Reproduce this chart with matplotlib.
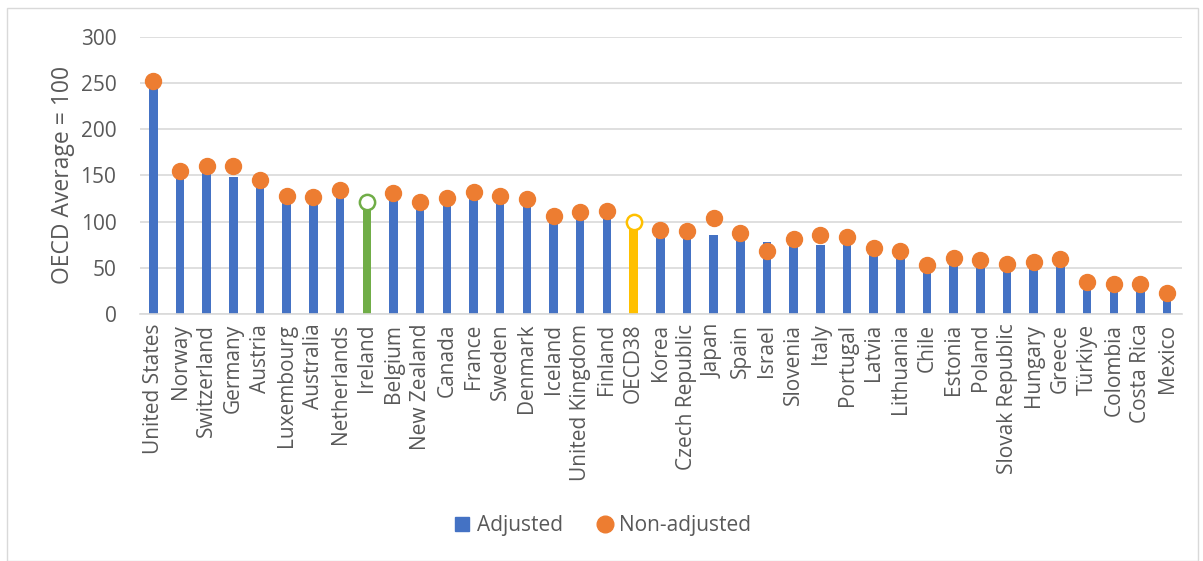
import numpy as np
import matplotlib.pyplot as plt
from matplotlib.patches import Rectangle
from matplotlib.lines import Line2D

plt.rcParams['font.family'] = ['Open Sans', 'DejaVu Sans']

countries = ['United States', 'Norway', 'Switzerland', 'Germany', 'Austria', 'Luxembourg',
             'Australia', 'Netherlands', 'Ireland', 'Belgium', 'New Zealand', 'Canada',
             'France', 'Sweden', 'Denmark', 'Iceland', 'United Kingdom', 'Finland', 'OECD38',
             'Korea', 'Czech Republic', 'Japan', 'Spain', 'Israel', 'Slovenia', 'Italy',
             'Portugal', 'Latvia', 'Lithuania', 'Chile', 'Estonia', 'Poland', 'Slovak Republic',
             'Hungary', 'Greece', 'Türkiye', 'Colombia', 'Costa Rica', 'Mexico']
adjusted = [247, 150, 155, 148, 140, 123, 121, 128, 121, 125, 115, 120,
            125, 122, 119, 100, 103, 105, 100, 85, 83, 86, 81, 78, 75, 75,
            76, 65, 62, 47, 55, 52, 48, 50, 53, 29, 25, 26, 16]
non_adjusted = [252, 155, 160, 160, 145, 128, 127, 134, 121, 131, 121, 126,
                132, 128, 125, 106, 110, 112, 100, 91, 90, 104, 88, 68, 81, 86,
                83, 71, 68, 53, 61, 58, 54, 56, 60, 35, 32, 32, 23]

blue = '#4472C4'
orange = '#ED7D31'
green = '#70AD47'
gold = '#FFC000'
text_c = '#595959'

bar_colors = [green if c == 'Ireland' else gold if c == 'OECD38' else blue for c in countries]

fig = plt.figure(figsize=(12.03, 5.61), dpi=100)
ax = fig.add_axes([0.1164, 0.4403, 0.866, 0.494])

x = np.arange(len(countries))
ax.bar(x, adjusted, width=0.32, color=bar_colors, zorder=2)

# non-adjusted dots; Ireland and OECD38 drawn as open circles
for i, (c, v) in enumerate(zip(countries, non_adjusted)):
    if c == 'Ireland':
        ax.plot(i, v, 'o', ms=11, mfc='white', mec=green, mew=1.8, zorder=3)
    elif c == 'OECD38':
        ax.plot(i, v, 'o', ms=11, mfc='white', mec=gold, mew=1.8, zorder=3)
    else:
        ax.plot(i, v, 'o', ms=11.5, color=orange, zorder=3)

ax.set_xlim(-0.5, len(countries) - 0.45)
ax.set_ylim(0, 300)
ax.set_yticks(range(0, 301, 50))
ax.yaxis.grid(True, color='#D9D9D9', lw=1.2, zorder=0)
ax.set_axisbelow(True)
for s in ['top', 'right', 'left']:
    ax.spines[s].set_visible(False)
ax.spines['bottom'].set_color('#D9D9D9')
ax.spines['bottom'].set_linewidth(1.2)
ax.tick_params(axis='both', length=0, labelsize=15, labelcolor=text_c)
ax.tick_params(axis='y', pad=17)
ax.tick_params(axis='x', pad=7)
ax.set_xticks(x)
ax.set_xticklabels(countries, rotation=90)
ax.set_ylabel('OECD Average = 100', fontsize=16.5, color=text_c, labelpad=4)

handles = [Line2D([], [], marker='s', ls='none', color=blue, ms=10),
           Line2D([], [], marker='o', ls='none', color=orange, ms=12)]
fig.legend(handles, ['Adjusted', 'Non-adjusted'], loc='center', bbox_to_anchor=(0.5, 0.063),
           ncol=2, frameon=False, fontsize=15, labelcolor=text_c,
           handlelength=1.0, handletextpad=0.2, columnspacing=1.5)

fig.patches.append(Rectangle((0.006, 0.0), 0.99, 0.985, transform=fig.transFigure,
                             fill=False, ec='#D9D9D9', lw=1))

fig.savefig('out.png', dpi=100)
